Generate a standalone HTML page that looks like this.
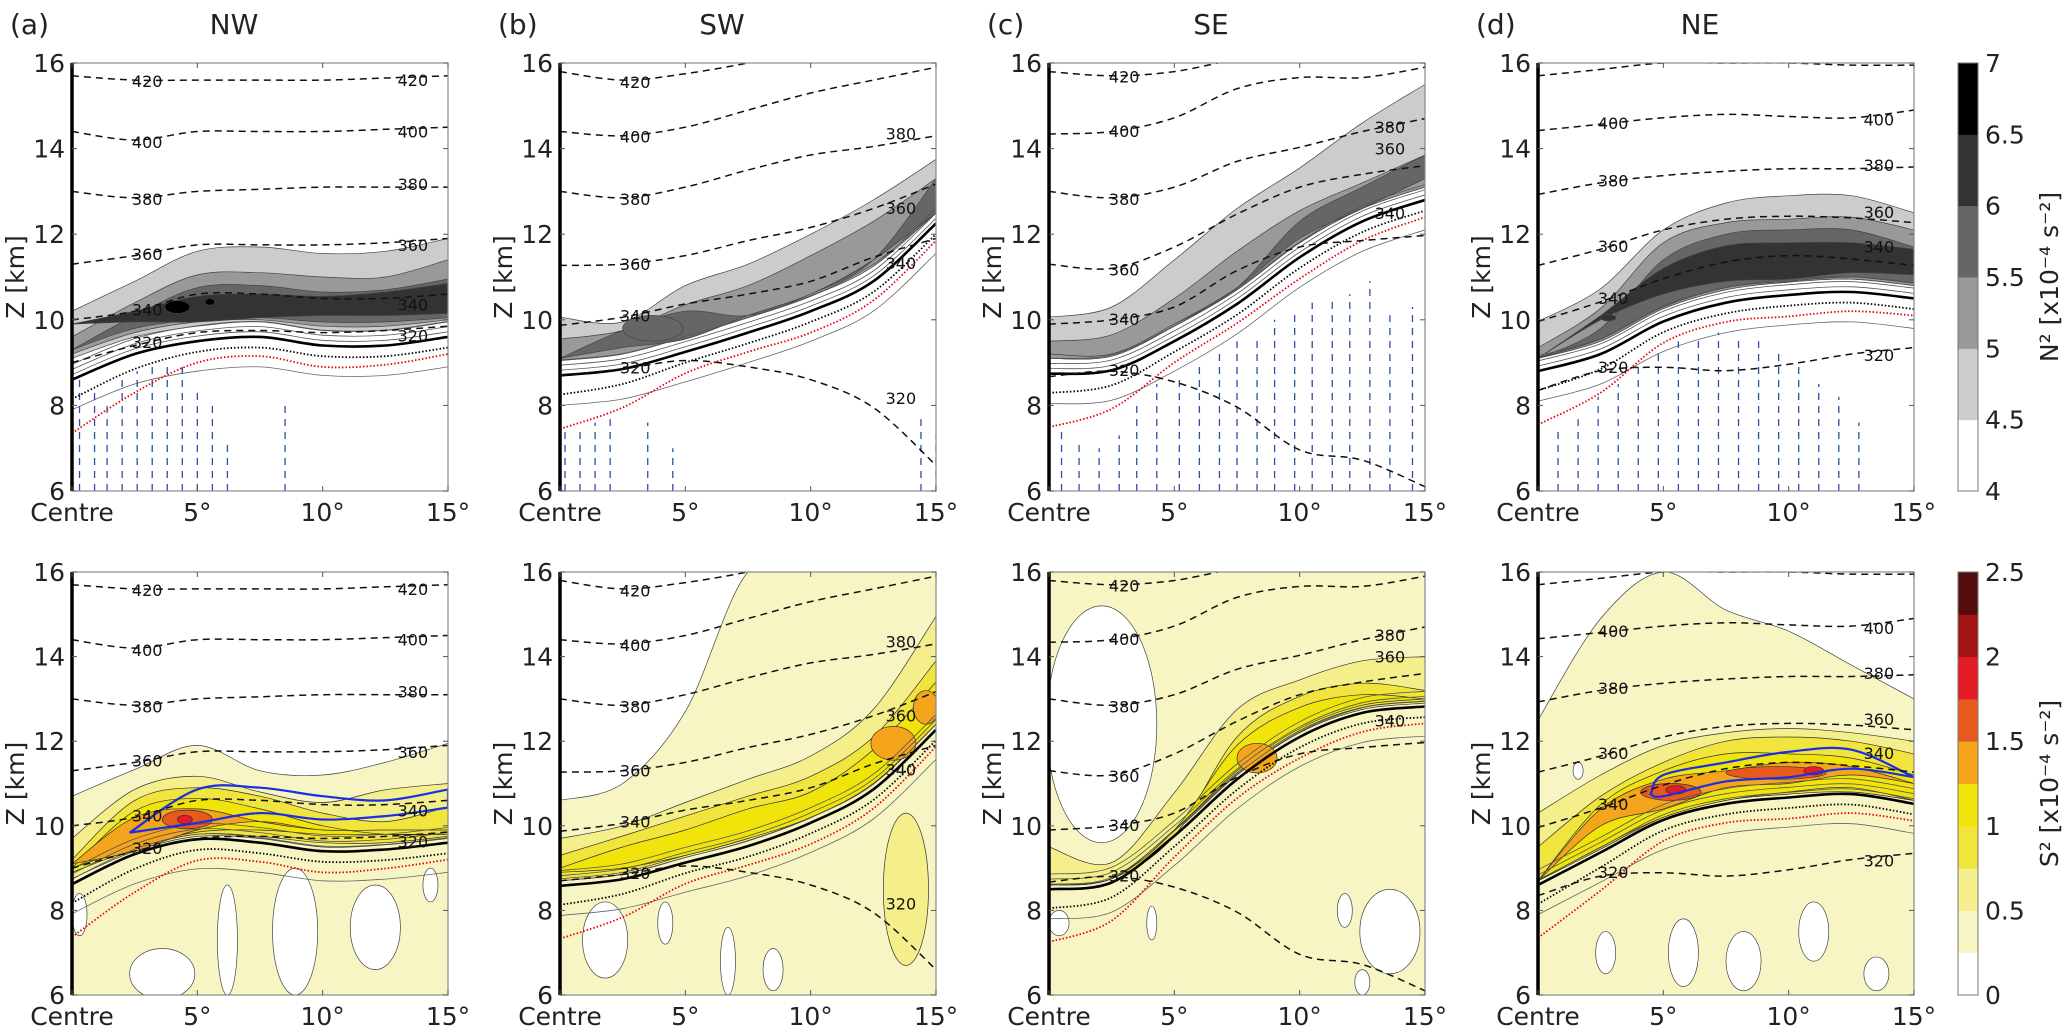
<!DOCTYPE html>
<html><head><meta charset="utf-8"><style>
html,body{margin:0;padding:0;background:#fff;}
svg{display:block;font-family:"DejaVu Sans","Liberation Sans",sans-serif;}
</style></head><body>
<svg id="fig" xmlns="http://www.w3.org/2000/svg" width="2067" height="1028" viewBox="0 0 2067 1028"></svg>
<script>
// ---------- shared axes data ----------
const XN = [0, 2.5, 5, 7.5, 10, 12.5, 15];
const yTicks = [6, 8, 10, 12, 14, 16];
const xTicks = [0, 5, 10, 15];
const xTickLabels = ['Centre', '5°', '10°', '15°'];
const titles = ['NW', 'SW', 'SE', 'NE'];
const tags = ['(a)', '(b)', '(c)', '(d)'];
const thetaLabels = ['320', '340', '360', '380', '400', '420'];
const n2Levels = [4, 4.5, 5, 5.5, 6, 6.5, 7];
const s2Levels = [0, 0.25, 0.5, 0.75, 1, 1.25, 1.5, 1.75, 2, 2.25, 2.5];
const blackDotOff = [0.45, 0.35, 0.25, 0.25, 0.25, 0.25, 0.25];
const redDotOff = [1.25, 0.9, 0.5, 0.45, 0.5, 0.45, 0.4];

// ---------- tropopause (thick line) ----------
const tpTopNW = [8.6, 9.2, 9.5, 9.6, 9.4, 9.4, 9.6];
const tpTopSW = [8.7, 8.85, 9.25, 9.7, 10.2, 10.9, 12.25];
const tpTopSE = [8.74, 8.82, 9.5, 10.37, 11.46, 12.3, 12.8];
const tpTopNE = [8.8, 9.2, 9.96, 10.4, 10.58, 10.65, 10.5];
const tpBotNW = [8.62, 9.33, 9.68, 9.6, 9.4, 9.44, 9.6];
const tpBotSW = [8.58, 8.74, 9.13, 9.52, 10.07, 10.86, 12.27];
const tpBotSE = [8.5, 8.66, 9.76, 11.1, 12.1, 12.67, 12.82];
const tpBotNE = [8.6, 9.37, 10.14, 10.52, 10.67, 10.75, 10.52];

// ---------- isentropes (320..420 K) ----------
const thNW = [[9.0,9.4,9.7,9.75,9.7,9.75,9.85],[10.0,10.2,10.6,10.6,10.5,10.5,10.6],[11.3,11.5,11.75,11.75,11.75,11.8,11.9],[13.0,12.85,13.0,13.05,13.1,13.1,13.1],[14.4,14.2,14.4,14.4,14.4,14.45,14.5],[15.7,15.6,15.6,15.6,15.6,15.65,15.7]];
const thSW = [[8.7,8.85,9.05,8.9,8.6,7.95,6.6],[9.87,10.06,10.37,10.6,10.9,11.46,11.9],[11.27,11.3,11.5,11.85,12.16,12.6,13.17],[13.0,12.85,13.1,13.5,13.85,14.05,14.3],[14.4,14.3,14.5,14.9,15.3,15.6,15.9],[15.8,15.6,15.75,16.0,16.3,16.5,16.7]];
const thSE = [[8.67,8.8,8.55,7.96,6.96,6.72,6.1],[9.9,10.0,10.3,11.15,11.7,11.85,11.97],[11.3,11.2,11.7,12.47,13.1,13.4,13.6],[13.0,12.85,13.1,13.7,14.03,14.4,14.7],[14.34,14.4,14.72,15.4,15.66,15.66,15.9],[15.8,15.7,15.8,16.1,16.4,16.6,16.8]];
const thNE = [[8.35,8.81,8.89,8.81,8.96,9.2,9.35],[9.96,10.42,10.96,11.35,11.5,11.42,11.27],[11.27,11.65,12.1,12.35,12.42,12.38,12.27],[12.93,13.2,13.37,13.47,13.53,13.53,13.57],[14.42,14.57,14.72,14.8,14.75,14.72,14.9],[15.7,15.85,16.0,16.0,16.0,15.95,15.95]];

// ---------- N^2 filled bands ----------
const n2LoNW = [[9.1,9.6,9.85,9.95,9.75,9.75,9.95],[9.2,9.7,9.95,10.0,9.85,9.85,10.0],[9.3,9.8,10.0,10.05,9.95,9.95,10.05],[9.9,9.95,9.95,10.05,10.1,10.1,10.15]];
const n2HiNW = [[10.2,10.9,11.6,11.7,11.55,11.6,11.9],[9.6,10.4,11.05,11.1,11.0,11.0,11.4],[9.3,10.1,10.75,10.8,10.65,10.7,10.95],[9.9,10.2,10.55,10.6,10.55,10.65,10.85]];
const n2LoSW = [[9.05,9.2,9.6,10.05,10.55,11.25,12.5],[9.05,9.2,9.6,10.05,10.55,11.3,12.5],[9.1,9.35,9.55,10.1,10.6,11.4,12.5]];
const n2HiSW = [[10.06,9.95,10.8,11.3,12.0,12.8,13.75],[9.55,9.75,10.35,10.8,11.5,12.3,13.3],[9.1,9.75,10.2,10.1,10.6,11.4,13.3]];
const n2LoSE = [[9.1,9.15,9.85,10.7,11.8,12.6,13.1],[9.1,9.15,9.85,10.7,11.8,12.6,13.1],[9.2,9.2,9.9,10.75,11.9,12.6,13.3]];
const n2HiSE = [[10.06,10.3,11.4,12.6,13.55,14.6,15.5],[9.5,9.65,10.5,11.6,12.55,13.2,13.85],[9.2,9.2,9.9,10.75,12.3,13.1,13.85]];
const n2LoNE = [[9.1,9.5,10.26,10.7,10.88,10.95,10.8],[9.1,9.5,10.26,10.7,10.88,10.95,10.8],[9.1,9.55,10.3,10.75,10.9,11.0,10.85],[9.1,10.0,10.6,10.9,10.95,11.1,11.05]];
const n2HiNE = [[9.96,10.73,12.1,12.73,12.9,12.9,12.5],[9.35,10.27,11.8,12.27,12.35,12.4,12.1],[9.1,9.8,11.4,12.0,12.1,12.1,11.7],[9.1,10.1,11.2,11.73,11.8,11.8,11.65]];
const n2BlobNW = [[4.2,10.3,0.5,0.15,4],[5.5,10.42,0.2,0.08,4]];
const n2BlobSW = [[3.7,9.8,1.2,0.3,2]];
const n2BlobSE = [];
const n2BlobNE = [[2.8,10.05,0.3,0.08,3]];

// ---------- S^2 filled bands ----------
const creamTopNW = [10.7,11.33,11.9,11.3,11.2,11.5,11.95];
const creamTopSW = [10.6,11.0,12.7,16,16,16,16];
const creamTopSE = [16,16,16,16,16,16,16];
const creamTopNE = [12.5,14.9,16,15.1,14.6,13.8,13.0];
const s2LoNW = [[8.75,9.4,9.75,9.7,9.5,9.55,9.7],[8.9,9.45,9.8,9.75,9.6,9.6,9.75],[9.0,9.5,9.85,9.9,9.8,9.8,9.8],[9.1,9.4,9.9,10.1,9.9,9.9,9.9]];
const s2HiNW = [[9.7,10.86,11.17,10.8,10.55,10.85,11.0],[9.2,10.6,10.9,10.7,10.3,10.1,10.45],[9.0,10.35,10.65,10.4,10.0,9.8,9.8],[9.1,10.2,10.4,10.1,9.9,9.9,9.9]];
const s2LoSW = [[8.7,8.85,9.25,9.65,10.2,11.0,12.4],[8.75,8.9,9.3,9.7,10.25,11.05,12.45],[8.9,9.0,9.3,9.7,10.2,11.0,12.4]];
const s2HiSW = [[9.7,10.0,10.55,11.1,11.65,12.75,14.95],[9.3,9.76,10.23,10.7,11.17,12.1,13.9],[9.0,9.5,9.9,10.4,10.8,11.8,13.4]];
const s2LoSE = [[8.6,8.75,9.85,11.2,12.2,12.75,12.9],[8.6,8.75,9.9,11.25,12.25,12.8,12.95],[8.6,8.75,9.9,11.3,12.3,12.85,13.0]];
const s2HiSE = [[9.5,9.13,10.78,12.75,13.45,13.9,14.0],[8.6,8.75,9.76,12.1,13.06,13.37,13.2],[8.6,8.75,9.9,11.9,12.8,13.1,13.0]];
const s2LoNE = [[8.7,9.45,10.2,10.6,10.75,10.8,10.6],[8.7,9.45,10.2,10.6,10.75,10.8,10.6],[8.7,9.5,10.2,10.6,10.8,10.9,10.6],[8.7,10.0,10.4,10.9,11.0,11.2,11.0]];
const s2HiNE = [[10.3,11.2,11.9,12.2,12.3,12.2,12.0],[9.5,10.7,11.5,12.0,12.1,12.0,11.7],[8.7,10.5,11.3,11.7,11.7,11.6,11.2],[8.7,10.4,11.1,11.3,11.5,11.4,11.0]];
const s2BlobNW = [[4.6,10.15,1.0,0.22,4],[4.5,10.15,0.3,0.1,5]];
const s2BlobSW = [[13.8,8.5,0.9,1.8,0],[13.3,11.95,0.9,0.4,3],[14.6,12.8,0.5,0.4,3]];
const s2BlobSE = [[8.3,11.6,0.8,0.35,3]];
const s2BlobNE = [[5.3,10.8,1.2,0.2,4],[9.5,11.25,2.0,0.15,4],[5.5,10.85,0.4,0.1,5],[11,11.3,0.4,0.1,5]];
const whiteNW = [[3.6,6.5,1.3,0.6],[6.2,7.3,0.4,1.3],[8.9,7.5,0.9,1.5],[12.1,7.6,1.0,1.0],[14.3,8.6,0.3,0.4],[0.3,7.9,0.3,0.5]];
const whiteSW = [[1.8,7.3,0.9,0.9],[4.2,7.7,0.3,0.5],[6.7,6.8,0.3,0.8],[8.5,6.6,0.4,0.5]];
const whiteSE = [[2.1,12.4,2.2,2.8],[13.6,7.5,1.2,1.0],[12.5,6.3,0.3,0.3],[4.1,7.7,0.2,0.4],[11.8,8.0,0.3,0.4],[0.4,7.7,0.4,0.3]];
const whiteNE = [[5.8,7.0,0.6,0.8],[8.2,6.8,0.7,0.7],[11,7.5,0.6,0.7],[2.7,7.0,0.4,0.5],[13.5,6.5,0.5,0.4],[1.6,11.3,0.2,0.2]];

// ---------- jet core (blue solid) ----------
const jetXNW = [2.3,5,7.5,10,12.5,15];
const jetUpNW = [9.84,10.86,10.9,10.7,10.6,10.86];
const jetLoNW = [9.84,10.07,10.3,10.15,10.23,10.43];
const jetXNE = [4.5,5,7.5,10,12.5,15];
const jetUpNE = [10.75,11.2,11.5,11.75,11.8,11.15];
const jetLoNE = [10.75,10.7,11.05,11.15,11.35,11.15];

// ---------- blue dashed columns (top row): [deg, topKm] ----------
const blueNW = [[0.3,8.6],[0.9,8.3],[1.4,8.0],[2.0,8.6],[2.6,8.8],[3.2,8.9],[3.8,9.0],[4.4,8.9],[5.0,8.4],[5.6,8.0],[6.2,7.2],[8.5,8.0]];
const blueSW = [[0.2,7.5],[0.8,7.5],[1.4,7.6],[2.0,7.8],[3.5,7.6],[4.5,7.0],[14.4,7.8],[15,7.3]];
const blueSE = [[0.5,7.5],[1.2,7.2],[2,7],[2.8,7.3],[3.5,8],[4.3,8.5],[5.2,8.6],[6,9],[6.8,9.3],[7.5,9.5],[8.3,9.6],[9,10],[9.8,10.2],[10.5,10.4],[11.3,10.5],[12,10.6],[12.8,10.9],[13.6,10.2],[14.5,10.3]];
const blueNE = [[0.8,7.5],[1.6,7.8],[2.4,8.2],[3.2,8.5],[4,9],[4.8,9.3],[5.6,9.5],[6.4,9.6],[7.2,9.7],[8,9.6],[8.8,9.5],[9.6,9.3],[10.4,9.0],[11.2,8.5],[12.0,8.2],[12.8,7.6]];

const n2Colors = ['#ffffff','#cccccc','#999999','#666666','#333333','#000000'];
const s2Colors = ['#ffffff','#f8f5c5','#f4ef8a','#f1e43c','#f0e40a','#f5a51c','#e85a1c','#e31b23','#a31515','#560c0c'];

const tpTop = [tpTopNW,tpTopSW,tpTopSE,tpTopNE];
const tpBot = [tpBotNW,tpBotSW,tpBotSE,tpBotNE];
const thAll = [thNW,thSW,thSE,thNE];
const n2Lo = [n2LoNW,n2LoSW,n2LoSE,n2LoNE], n2Hi = [n2HiNW,n2HiSW,n2HiSE,n2HiNE];
const n2Blob = [n2BlobNW,n2BlobSW,n2BlobSE,n2BlobNE];
const s2Lo = [s2LoNW,s2LoSW,s2LoSE,s2LoNE], s2Hi = [s2HiNW,s2HiSW,s2HiSE,s2HiNE];
const s2Blob = [s2BlobNW,s2BlobSW,s2BlobSE,s2BlobNE];
const creamTop = [creamTopNW,creamTopSW,creamTopSE,creamTopNE];
const whites = [whiteNW,whiteSW,whiteSE,whiteNE];
const blues = [blueNW,blueSW,blueSE,blueNE];
const jets = [[jetXNW,jetUpNW,jetLoNW],null,null,[jetXNE,jetUpNE,jetLoNE]];

// ---------- layout ----------
const NS = 'http://www.w3.org/2000/svg';
const svg = document.getElementById('fig');
const PL = [72, 560, 1049, 1538], PW = 376;
const ROWS = [{top:63,bot:491},{top:572,bot:995}];

function el(tag, attrs, parent){
  const e = document.createElementNS(NS, tag);
  for (const k in attrs) e.setAttribute(k, attrs[k]);
  (parent||svg).appendChild(e);
  return e;
}
function smooth(pts){
  if (pts.length < 2) return '';
  let d = '';
  for (let i=0;i<pts.length-1;i++){
    const p0=pts[Math.max(0,i-1)], p1=pts[i], p2=pts[i+1], p3=pts[Math.min(pts.length-1,i+2)];
    const c1=[p1[0]+(p2[0]-p0[0])/6, p1[1]+(p2[1]-p0[1])/6];
    const c2=[p2[0]-(p3[0]-p1[0])/6, p2[1]-(p3[1]-p1[1])/6];
    d += ` C${c1[0].toFixed(1)},${c1[1].toFixed(1)} ${c2[0].toFixed(1)},${c2[1].toFixed(1)} ${p2[0].toFixed(1)},${p2[1].toFixed(1)}`;
  }
  return d;
}
function linePath(xs, zs, sx, sy){
  const pts = xs.map((x,i)=>[sx(x), sy(zs[i])]);
  return 'M'+pts[0][0].toFixed(1)+','+pts[0][1].toFixed(1)+smooth(pts);
}
function bandPath(xs, lo, hi, sx, sy){
  const up = xs.map((x,i)=>[sx(x), sy(hi[i])]);
  const dn = xs.map((x,i)=>[sx(x), sy(lo[i])]).reverse();
  return 'M'+up[0][0].toFixed(1)+','+up[0][1].toFixed(1)+smooth(up)+' L'+dn[0][0].toFixed(1)+','+dn[0][1].toFixed(1)+smooth(dn)+' Z';
}

for (let p=0;p<4;p++){
  const t = el('text',{x:PL[p]-62,y:34,'font-size':28,fill:'#222'});
  t.textContent = tags[p];
  
  
  const h = el('text',{x:PL[p]+162,y:34,'font-size':28,fill:'#222','text-anchor':'middle'});
  h.textContent = titles[p];
  
  
}

for (let r=0;r<2;r++){
  const top = ROWS[r].top, bot = ROWS[r].bot, H = bot-top;
  for (let p=0;p<4;p++){
    const L = PL[p];
    const sx = d => L + d/15*PW;
    const sy = z => top + (16-z)/10*H;
    const key = titles[p].toLowerCase()+(r===0?'-n2':'-s2');
    const g = el('g',{});
    
    
    const cid = 'clip-'+key;
    const cp = el('clipPath',{id:cid}, g);
    el('rect',{x:L,y:top,width:PW,height:H}, cp);
    const pg = el('g',{'clip-path':'url(#'+cid+')'}, g);
    el('rect',{x:L,y:top,width:PW,height:H,fill:'#fff'}, pg);
    const tp = r===0 ? tpTop[p] : tpBot[p];

    if (r===0){
      n2Lo[p].forEach((lo,k)=>{
        const b = el('path',{d:bandPath(XN,lo,n2Hi[p][k],sx,sy),fill:n2Colors[k+1],stroke:'#444','stroke-width':0.7}, pg);
        
        
      });
      n2Blob[p].forEach(bl=>{
        const e = el('ellipse',{cx:sx(bl[0]),cy:sy(bl[1]),rx:bl[2]/15*PW,ry:bl[3]/10*H,fill:n2Colors[bl[4]+1],stroke:'#444','stroke-width':0.7}, pg);
        
        
      });
    } else {
      const cr = el('path',{d:bandPath(XN,XN.map(()=>5.5),creamTop[p],sx,sy),fill:s2Colors[1],stroke:'#444','stroke-width':0.7}, pg);
      
      
      whites[p].forEach(w=>{
        const e = el('ellipse',{cx:sx(w[0]),cy:sy(w[1]),rx:w[2]/15*PW,ry:w[3]/10*H,fill:'#fff',stroke:'#444','stroke-width':0.7}, pg);
        
        
      });
      s2Lo[p].forEach((lo,k)=>{
        const b = el('path',{d:bandPath(XN,lo,s2Hi[p][k],sx,sy),fill:s2Colors[k+2],stroke:'#333','stroke-width':0.7}, pg);
        
        
      });
      s2Blob[p].forEach(bl=>{
        const e = el('ellipse',{cx:sx(bl[0]),cy:sy(bl[1]),rx:bl[2]/15*PW,ry:bl[3]/10*H,fill:s2Colors[bl[4]+2],stroke:'#333','stroke-width':0.7}, pg);
        
        
      });
    }
    [0.12,0.24,0.36].forEach(o=>{
      el('path',{d:linePath(XN,tp.map(v=>v+o),sx,sy),fill:'none',stroke:'#555','stroke-width':0.8}, pg);
    });
    el('path',{d:linePath(XN,tp.map(v=>v-0.7),sx,sy),fill:'none',stroke:'#666','stroke-width':0.8}, pg);
    if (r===0){
      blues[p].forEach(c=>{
        const b = el('line',{x1:sx(c[0]),y1:sy(6),x2:sx(c[0]),y2:sy(c[1]),stroke:'#2a4fa8','stroke-width':1.3,'stroke-dasharray':'7,6'}, pg);
        
        
      });
    }
    const tl = el('path',{d:linePath(XN,tp,sx,sy),fill:'none',stroke:'#000','stroke-width':2.6}, pg);
    
    
    const bd = el('path',{d:linePath(XN,tp.map((v,i)=>v-blackDotOff[i]),sx,sy),fill:'none',stroke:'#000','stroke-width':1.8,'stroke-dasharray':'1.5,2'}, pg);
    
    
    const rd = el('path',{d:linePath(XN,tp.map((v,i)=>v-redDotOff[i]),sx,sy),fill:'none',stroke:'#e8000b','stroke-width':1.8,'stroke-dasharray':'1.5,2'}, pg);
    
    
    if (r===1 && jets[p]){
      const j = jets[p];
      const jp = el('path',{d:bandPath(j[0],j[2],j[1],sx,sy),fill:'none',stroke:'#1a2ee8','stroke-width':2.2}, pg);
      
      
    }
    thAll[p].forEach((zs,k)=>{
      const ip = el('path',{d:linePath(XN,zs,sx,sy),fill:'none',stroke:'#111','stroke-width':1.5,'stroke-dasharray':'7,5'}, pg);
      
      
      [[3.0,1],[13.6,4]].forEach(([d,i])=>{
        const z = zs[i-1] + (zs[i]-zs[i-1])*((d-XN[i-1])/2.5);
        if (z<6.3 || z>15.85) return;
        const t = el('text',{x:sx(d),y:sy(z)+6,'font-size':16,fill:'#111','text-anchor':'middle'}, pg);
        t.textContent = thetaLabels[k];
        
        
      });
    });
    el('rect',{x:L,y:top,width:PW,height:H,fill:'none',stroke:'#888','stroke-width':1.2}, g);
    const ax = el('line',{x1:L,y1:top,x2:L,y2:bot,stroke:'#000','stroke-width':3.5}, g);
    
    
    yTicks.forEach(v=>{
      el('line',{x1:L,y1:sy(v),x2:L+5,y2:sy(v),stroke:'#555','stroke-width':1}, g);
      el('line',{x1:L+PW,y1:sy(v),x2:L+PW-5,y2:sy(v),stroke:'#555','stroke-width':1}, g);
      const t = el('text',{x:L-7,y:sy(v)+9,'font-size':25,fill:'#222','text-anchor':'end'}, g);
      t.textContent = v;
      
      
    });
    xTicks.forEach((v,i)=>{
      el('line',{x1:sx(v),y1:bot,x2:sx(v),y2:bot-5,stroke:'#555','stroke-width':1}, g);
      el('line',{x1:sx(v),y1:top,x2:sx(v),y2:top+5,stroke:'#555','stroke-width':1}, g);
      const t = el('text',{x:sx(v),y:bot+30,'font-size':25,fill:'#222','text-anchor':'middle'}, g);
      t.textContent = xTickLabels[i];
      
      
    });
    const yl = el('text',{x:0,y:0,'font-size':25,fill:'#222','text-anchor':'middle',transform:`translate(${L-48},${(top+bot)/2}) rotate(-90)`}, g);
    yl.textContent = 'Z [km]';
    
    
  }
}

function colorbar(top, bot, levels, colors, labels, title, name){
  const g = el('g',{});
  
  
  const n = levels.length-1, h = (bot-top)/n;
  for (let i=0;i<n;i++){
    el('rect',{x:1958,y:bot-(i+1)*h,width:20,height:h+0.5,fill:colors[i]}, g);
  }
  el('rect',{x:1958,y:top,width:20,height:bot-top,fill:'none',stroke:'#777','stroke-width':1}, g);
  labels.forEach(v=>{
    const y = bot - (v-levels[0])/(levels[n]-levels[0])*(bot-top);
    const t = el('text',{x:1985,y:y+9,'font-size':25,fill:'#222'}, g);
    t.textContent = v;
    
    
  });
  const tt = el('text',{x:0,y:0,'font-size':25,fill:'#222','text-anchor':'middle',transform:`translate(2058,${(top+bot)/2}) rotate(-90)`}, g);
  tt.textContent = title;
  
  
}
colorbar(63, 491, n2Levels, n2Colors, [4,4.5,5,5.5,6,6.5,7], 'N² [x10⁻⁴ s⁻²]', 'colorbar-n2');
colorbar(572, 995, s2Levels, s2Colors, [0,0.5,1,1.5,2,2.5], 'S² [x10⁻⁴ s⁻²]', 'colorbar-s2');
</script>
</body></html>
